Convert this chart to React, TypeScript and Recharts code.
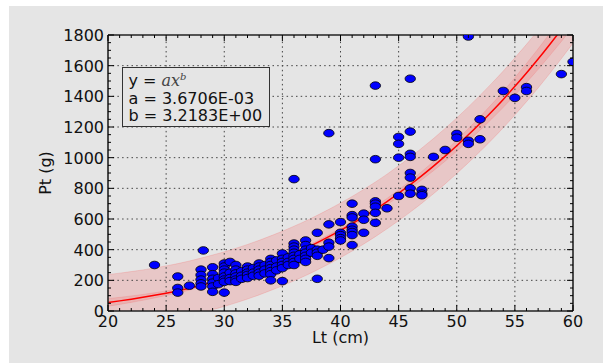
import { ComposedChart, XAxis, YAxis, Area, Line, Scatter, ReferenceLine } from 'recharts';

// fitted curve y = a x^b, sampled at whole centimetres
const fitX = [20, 21, 22, 23, 24, 25, 26, 27, 28, 29, 30, 31, 32, 33, 34, 35, 36, 37, 38, 39, 40,
  41, 42, 43, 44, 45, 46, 47, 48, 49, 50, 51, 52, 53, 54, 55, 56, 57, 58, 59, 60];
const fitY = [56, 66, 77, 89, 102, 116, 131, 148, 167, 187, 208, 231, 256, 283, 312, 342, 375, 409, 446, 485, 526,
  569, 615, 663, 714, 768, 824, 883, 945, 1010, 1078, 1149, 1223, 1300, 1380, 1465, 1552, 1643, 1738, 1836, 1938];

// wide (prediction) band
const outerLo = [-126, -115, -103, -90, -77, -62, -47, -30, -11, 9, 30, 53, 78, 105, 134, 164, 197, 231, 268, 307, 348,
  391, 437, 485, 536, 589, 645, 703, 765, 829, 897, 967, 1040, 1116, 1195, 1279, 1365, 1455, 1549, 1646, 1747];
const outerHi = [238, 247, 257, 268, 281, 294, 309, 326, 345, 365, 386, 409, 434, 461, 490, 520, 553, 587, 624, 663, 704,
  747, 793, 841, 892, 947, 1003, 1063, 1125, 1191, 1259, 1331, 1406, 1484, 1565, 1651, 1739, 1831, 1927, 2026, 2129];

// narrow (confidence) band
const innerLo = [31, 43, 56, 70, 85, 101, 118, 136, 156, 177, 198, 221, 246, 273, 302, 332, 365, 398, 434, 472, 512,
  554, 598, 645, 694, 746, 800, 856, 915, 977, 1042, 1109, 1179, 1252, 1328, 1408, 1490, 1576, 1666, 1758, 1854];
const innerHi = [81, 89, 98, 108, 119, 131, 144, 160, 178, 197, 218, 241, 266, 293, 322, 352, 385, 420, 458, 498, 540,
  584, 632, 681, 734, 790, 848, 910, 975, 1043, 1114, 1189, 1267, 1348, 1432, 1522, 1614, 1710, 1810, 1914, 2022];

// observations: length (cm) and weight (g)
const ptX = [24,
  26, 26, 26, 27,
  28, 28, 28, 28, 28, 28.2,
  29, 29, 29, 29, 29, 29, 29.5, 29.5,
  30, 30, 30, 30, 30, 30, 30, 30,
  30.5, 30.5, 30.5, 30.5,
  31, 31, 31, 31, 31, 31, 31.5, 31.5, 31.5,
  32, 32, 32, 32, 32, 32.5, 32.5, 32.5,
  33, 33, 33, 33, 33, 33.5, 33.5, 33.5,
  34, 34, 34, 34, 34, 34, 34, 34.5, 34.5, 34.5,
  35, 35, 35, 35, 35, 35, 35.5, 35.5, 35.5,
  36, 36, 36, 36, 36, 36, 36, 36, 36, 36.5, 36.5,
  37, 37, 37, 37, 37, 37, 37, 37.5, 37.5,
  38, 38, 38, 38, 38, 38.5,
  39, 39, 39, 39, 39,
  40, 40, 40, 40, 40,
  41, 41, 41, 41, 41, 41, 41, 41,
  42, 42, 42,
  43, 43, 43, 43, 43, 43, 43,
  44,
  45, 45, 45, 45,
  46, 46, 46, 46, 46, 46, 46, 46,
  47, 47, 47, 48, 49, 50, 50,
  51, 51, 51, 52, 52, 54, 55, 56, 56, 59, 60];
const ptY = [300,
  225, 150, 120, 165,
  270, 235, 205, 180, 160, 395,
  285, 240, 210, 185, 160, 125, 215, 175,
  310, 290, 270, 250, 225, 205, 190, 120,
  320, 250, 215, 195,
  300, 270, 245, 225, 205, 190, 260, 230, 210,
  290, 270, 250, 235, 215, 280, 250, 230,
  310, 290, 270, 250, 230, 300, 270, 245,
  340, 320, 300, 280, 260, 240, 200, 330, 290, 265,
  375, 340, 320, 300, 280, 195, 350, 320, 300,
  440, 420, 400, 380, 360, 340, 320, 300, 860, 370, 340,
  460, 430, 400, 380, 360, 340, 320, 410, 380,
  510, 400, 380, 360, 210, 400,
  565, 445, 420, 345, 1160,
  580, 510, 495, 475, 460,
  700, 625, 610, 550, 530, 515, 495, 430,
  635, 595, 510,
  715, 700, 680, 640, 575, 990, 1470,
  670,
  750, 1135, 1090, 1000,
  1515, 1170, 1025, 1005, 900, 870, 800, 765,
  790, 765, 755, 1005, 1050, 1155, 1130,
  1790, 1110, 1090, 1250, 1120, 1435, 1390, 1460, 1435, 1545, 1625];

const xTicks = Array.from({ length: 41 }, (_, i) => 20 + i);
const yTicks = Array.from({ length: 37 }, (_, i) => i * 50);
const xGrid = [25, 30, 35, 40, 45, 50, 55];
const yGrid = [200, 400, 600, 800, 1000, 1200, 1400, 1600];

const BG = '#e5e5e5';
const INK = '#111';
const FONT = '"DejaVu Sans", sans-serif';
const W = 594;
const H = 357;
const LEFT = 99;
const TOP = 29;
const RIGHT = 30;
const BOTTOM = 52;

const curve = fitX.map((x, i) => ({
  x,
  fit: fitY[i],
  outer: [outerLo[i], outerHi[i]],
  inner: [innerLo[i], innerHi[i]],
}));
const points = ptX.map((x, i) => ({ x, y: ptY[i] }));

function BottomTick(props: any) {
  const { x, y, payload } = props;
  const major = payload.value % 5 === 0;
  return (
    <g>
      <line x1={x} y1={y} x2={x} y2={y - (major ? 6 : 3)} stroke="#000" />
      {major && (
        <text x={x} y={y + 16} textAnchor="middle" fontSize={16} fontFamily={FONT} fill={INK}>
          {payload.value}
        </text>
      )}
    </g>
  );
}

function TopTick(props: any) {
  const { x, y, payload } = props;
  const major = payload.value % 5 === 0;
  return <line x1={x} y1={y} x2={x} y2={y + (major ? 6 : 3)} stroke="#000" />;
}

function LeftTick(props: any) {
  const { x, y, payload } = props;
  const major = payload.value % 200 === 0;
  return (
    <g>
      <line x1={x} y1={y} x2={x + (major ? 6 : 3)} y2={y} stroke="#000" />
      {major && (
        <text x={x - 4} y={y + 6} textAnchor="end" fontSize={16} fontFamily={FONT} fill={INK}>
          {payload.value}
        </text>
      )}
    </g>
  );
}

function RightTick(props: any) {
  const { x, y, payload } = props;
  const major = payload.value % 200 === 0;
  return <line x1={x} y1={y} x2={x - (major ? 6 : 3)} y2={y} stroke="#000" />;
}

const Dot = (props: any) => (
  <ellipse cx={props.cx} cy={props.cy} rx={5.2} ry={3.8} fill="#0000ff" stroke="#000" strokeWidth={0.8} />
);

const frame = { stroke: '#222', strokeWidth: 1.6 };

export default function App() {
  const plotW = W - LEFT - RIGHT;
  const plotH = H - TOP - BOTTOM;
  return (
    <div style={{ position: 'absolute', left: 9, top: 6, width: W, height: H, background: BG }}>
      <ComposedChart width={W} height={H} data={curve} margin={{ top: 0, right: 0, bottom: 0, left: 0 }}>
        <XAxis
          dataKey="x"
          type="number"
          domain={[20, 60]}
          allowDataOverflow
          ticks={xTicks}
          interval={0}
          height={BOTTOM}
          tickSize={0}
          tickMargin={0}
          tickLine={false}
          axisLine={frame}
          tick={BottomTick}
          label={{
            content: () => (
              <text x={LEFT + plotW / 2} y={TOP + plotH + 32} textAnchor="middle" fontSize={16} fontFamily={FONT} fill={INK}>
                Lt (cm)
              </text>
            ),
          }}
        />
        <XAxis
          xAxisId="top"
          orientation="top"
          dataKey="x"
          type="number"
          domain={[20, 60]}
          allowDataOverflow
          ticks={xTicks}
          interval={0}
          height={TOP}
          tickSize={0}
          tickMargin={0}
          tickLine={false}
          axisLine={frame}
          tick={TopTick}
        />
        <YAxis
          type="number"
          domain={[0, 1800]}
          allowDataOverflow
          ticks={yTicks}
          interval={0}
          width={LEFT}
          tickSize={0}
          tickMargin={0}
          tickLine={false}
          axisLine={frame}
          tick={LeftTick}
          label={{
            content: () => (
              <text
                x={36}
                y={TOP + plotH / 2}
                transform={`rotate(-90 36 ${TOP + plotH / 2})`}
                textAnchor="middle"
                dominantBaseline="central"
                fontSize={16}
                fontFamily={FONT}
                fill={INK}
              >
                Pt (g)
              </text>
            ),
          }}
        />
        <YAxis
          yAxisId="right"
          orientation="right"
          type="number"
          domain={[0, 1800]}
          allowDataOverflow
          ticks={yTicks}
          interval={0}
          width={RIGHT}
          tickSize={0}
          tickMargin={0}
          tickLine={false}
          axisLine={frame}
          tick={RightTick}
        />
        <Area
          type="monotone"
          dataKey="outer"
          fill="#ff0000"
          fillOpacity={0.13}
          stroke="#ff0000"
          strokeOpacity={0.12}
          isAnimationActive={false}
        />
        <Area
          type="monotone"
          dataKey="inner"
          fill="#ff0000"
          fillOpacity={0.1}
          stroke="#ff0000"
          strokeOpacity={0.1}
          isAnimationActive={false}
        />
        {xGrid.map((v) => (
          <ReferenceLine key={'gx' + v} x={v} stroke="#444" strokeDasharray="1.5 3.2" />
        ))}
        {yGrid.map((v) => (
          <ReferenceLine key={'gy' + v} y={v} stroke="#444" strokeDasharray="1.5 3.2" />
        ))}
        <Line type="monotone" dataKey="fit" stroke="#ff0000" strokeWidth={1.5} dot={false} isAnimationActive={false} />
        <Scatter data={points} dataKey="y" shape={Dot} isAnimationActive={false} />
      </ComposedChart>
      <div
        style={{
          position: 'absolute',
          left: 113,
          top: 61,
          width: 148,
          height: 60,
          boxSizing: 'border-box',
          border: '1.5px solid #333',
          background: BG,
          padding: '4px 0 0 5.5px',
          fontFamily: FONT,
          fontSize: 16,
          lineHeight: '17.5px',
          color: INK,
          whiteSpace: 'nowrap',
        }}
      >
        <div>
          y = <span style={{ fontFamily: '"DejaVu Serif", serif', fontStyle: 'italic', color: '#444' }}>
            ax<sup style={{ fontSize: 10, lineHeight: 0 }}>b</sup>
          </span>
        </div>
        <div>a = 3.6706E-03</div>
        <div>b = 3.2183E+00</div>
      </div>
    </div>
  );
}
